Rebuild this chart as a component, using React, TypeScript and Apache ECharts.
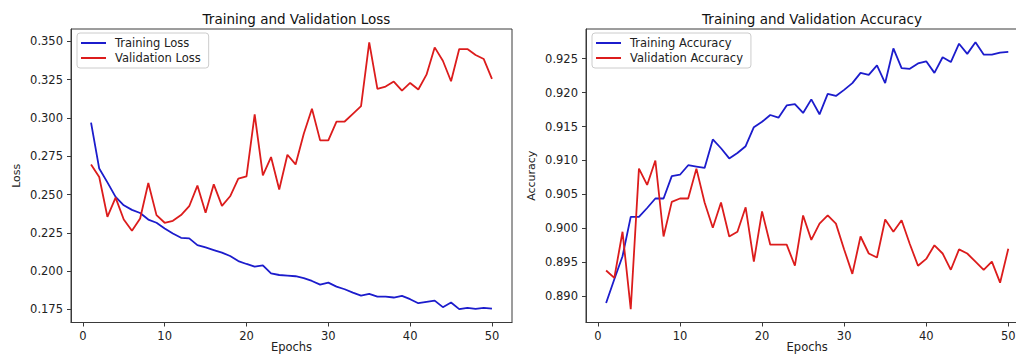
import React, { useEffect, useRef } from "react";
import * as echarts from "echarts";

const epochs = [1, 2, 3, 4, 5, 6, 7, 8, 9, 10, 11, 12, 13, 14, 15, 16, 17, 18, 19, 20, 21, 22, 23, 24, 25, 26, 27, 28, 29, 30, 31, 32, 33, 34, 35, 36, 37, 38, 39, 40, 41, 42, 43, 44, 45, 46, 47, 48, 49, 50];

const trainLoss = [0.297, 0.267, 0.258, 0.2485, 0.243, 0.240, 0.238, 0.2337, 0.2316, 0.2279,
  0.2246, 0.2218, 0.2214, 0.2170, 0.2155, 0.2138, 0.2121, 0.2099, 0.2066, 0.2047,
  0.2030, 0.2038, 0.1986, 0.1975, 0.1971, 0.1967, 0.1954, 0.1936, 0.1912, 0.1925,
  0.1899, 0.1882, 0.1860, 0.1841, 0.1852, 0.1834, 0.1834, 0.1828, 0.1839, 0.1817,
  0.1791, 0.1800, 0.1808, 0.1765, 0.1795, 0.1752, 0.1761, 0.1754, 0.1761, 0.1756];

const valLoss = [0.2697, 0.2615, 0.2355, 0.2480, 0.2337, 0.2264, 0.2344, 0.2576, 0.2366, 0.2316,
  0.2329, 0.2366, 0.2424, 0.2559, 0.2381, 0.2567, 0.2426, 0.2489, 0.2604, 0.2619,
  0.3023, 0.2626, 0.2745, 0.2533, 0.2760, 0.2697, 0.2897, 0.3060, 0.2854, 0.2854,
  0.2977, 0.2977, 0.3027, 0.3077, 0.3494, 0.3190, 0.3205, 0.3238, 0.3179, 0.3229,
  0.3186, 0.3283, 0.3461, 0.3374, 0.3240, 0.3450, 0.3450, 0.3411, 0.3385, 0.3255];

const trainAcc = [0.8890, 0.8925, 0.8959, 0.9017, 0.9017, 0.9030, 0.9044, 0.9044, 0.9077, 0.9079,
  0.9093, 0.9091, 0.9089, 0.9131, 0.9118, 0.9103, 0.9111, 0.9121, 0.9149, 0.9157,
  0.9167, 0.9163, 0.9181, 0.9183, 0.9170, 0.9190, 0.9168, 0.9198, 0.9195, 0.9204,
  0.9214, 0.9229, 0.9226, 0.9240, 0.9214, 0.9265, 0.9236, 0.9235, 0.9243, 0.9246,
  0.9229, 0.9252, 0.9245, 0.9272, 0.9257, 0.9274, 0.9256, 0.9256, 0.9259, 0.9260];

const valAcc = [0.8938, 0.8927, 0.8995, 0.8881, 0.9088, 0.9064, 0.9100, 0.8988, 0.9039, 0.9044,
  0.9044, 0.9088, 0.9038, 0.9001, 0.9038, 0.8988, 0.8995, 0.9031, 0.8951, 0.9025,
  0.8976, 0.8976, 0.8976, 0.8945, 0.9019, 0.8983, 0.9007, 0.9019, 0.9007, 0.8969,
  0.8933, 0.8988, 0.8963, 0.8957, 0.9013, 0.8995, 0.9012, 0.8977, 0.8945, 0.8955,
  0.8975, 0.8963, 0.8939, 0.8969, 0.8963, 0.8951, 0.8939, 0.8951, 0.8920, 0.8970];

const xTicks = [0, 10, 20, 30, 40, 50];
const lossTicks = [0.175, 0.2, 0.225, 0.25, 0.275, 0.3, 0.325, 0.35];
const accTicks = [0.89, 0.895, 0.9, 0.905, 0.91, 0.915, 0.92, 0.925];

const titles = ["Training and Validation Loss", "Training and Validation Accuracy"];
const yNames = ["Loss", "Accuracy"];
const xName = "Epochs";
const lossNames = ["Training Loss", "Validation Loss"];
const accNames = ["Training Accuracy", "Validation Accuracy"];

const FONT = "DejaVu Sans";
const BLUE = "#1c1ccc";
const RED = "#dc1c1c";
const AXIS = "#3a3a3a";

function range(arrs: number[][]) {
  const all = arrs.flat();
  const lo = Math.min(...all);
  const hi = Math.max(...all);
  const m = (hi - lo) * 0.05;
  return [lo - m, hi + m];
}

export default function App() {
  const ref = useRef<HTMLDivElement>(null);
  useEffect(() => {
    if (!ref.current) return;
    const chart = echarts.init(ref.current, undefined, { renderer: "svg" });
    const [xmin, xmax] = range([epochs]);
    const [lmin, lmax] = range([trainLoss, valLoss]);
    const [amin, amax] = range([trainAcc, valAcc]);

    const xAxisBase = (gi: number) => ({
      type: "value",
      gridIndex: gi,
      min: xmin,
      max: xmax,
      name: xName,
      nameLocation: "middle",
      nameGap: 18,
      nameMoveOverlap: false,
      nameTextStyle: { fontFamily: FONT, fontSize: 11.5, color: "#222" },
      axisLine: { show: true, onZero: false, lineStyle: { color: AXIS, width: 1 } },
      axisTick: { show: true, inside: false, length: 4, customValues: xTicks, lineStyle: { color: AXIS } },
      axisLabel: { customValues: xTicks, margin: 7, fontFamily: FONT, fontSize: 11.5, color: "#222" },
      splitLine: { show: false },
    });
    const yAxisBase = (gi: number, mn: number, mx: number, ticks: number[], name: string, gap: number) => ({
      type: "value",
      gridIndex: gi,
      min: mn,
      max: mx,
      name,
      nameLocation: "middle",
      nameGap: gap,
      nameMoveOverlap: false,
      nameTextStyle: { fontFamily: FONT, fontSize: 11, color: "#222" },
      axisLine: { show: true, onZero: false, lineStyle: { color: AXIS, width: 1 } },
      axisTick: { show: true, inside: false, length: 4, customValues: ticks, lineStyle: { color: AXIS } },
      axisLabel: {
        customValues: ticks,
        margin: 8,
        fontFamily: FONT,
        fontSize: 11.5,
        color: "#222",
        formatter: (v: number) => v.toFixed(3),
      },
      splitLine: { show: false },
    });

    const lineSeries = (name: string, data: number[], color: string, gi: number) => ({
      type: "line",
      name,
      xAxisIndex: gi,
      yAxisIndex: gi,
      data: epochs.map((e, i) => [e, data[i]]),
      showSymbol: false,
      symbol: "none",
      lineStyle: { color, width: 1.8 },
      itemStyle: { color },
      clip: true,
    });

    const legendBase = (left: number, names: string[]) => ({
      left,
      top: 33,
      orient: "vertical",
      data: names,
      icon: "path://M0,0 L25,0 L25,2 L0,2 Z",
      itemWidth: 25,
      itemHeight: 2,
      itemGap: 3,
      padding: [4, 8, 4, 4],
      borderColor: "#cccccc",
      borderWidth: 1,
      borderRadius: 3,
      backgroundColor: "rgba(255,255,255,0.8)",
      textStyle: { fontFamily: FONT, fontSize: 11.5, color: "#222", lineHeight: 12, padding: [0, 0, 0, 4] },
      selectedMode: false,
    });

    chart.setOption({
      animation: false,
      backgroundColor: "#ffffff",
      title: [
        {
          text: titles[0],
          left: 291.5,
          top: 7,
          textAlign: "center",
          textStyle: { fontFamily: FONT, fontSize: 13.5, fontWeight: "normal", color: "#111" },
        },
        {
          text: titles[1],
          left: 807,
          top: 7,
          textAlign: "center",
          textStyle: { fontFamily: FONT, fontSize: 13.5, fontWeight: "normal", color: "#111" },
        },
      ],
      grid: [
        { left: 71, top: 29, width: 441, height: 293.5, show: true, borderColor: AXIS, borderWidth: 1, containLabel: false, outerBoundsMode: "none" },
        { left: 586, top: 29, width: 442.4, height: 293.5, show: true, borderColor: AXIS, borderWidth: 1, containLabel: false, outerBoundsMode: "none" },
      ],
      xAxis: [xAxisBase(0), xAxisBase(1)],
      yAxis: [
        yAxisBase(0, lmin, lmax, lossTicks, yNames[0], 49),
        yAxisBase(1, amin, amax, accTicks, yNames[1], 49),
      ],
      legend: [legendBase(77, lossNames), legendBase(592, accNames)],
      series: [
        lineSeries(lossNames[0], trainLoss, BLUE, 0),
        lineSeries(lossNames[1], valLoss, RED, 0),
        lineSeries(accNames[0], trainAcc, BLUE, 1),
        lineSeries(accNames[1], valAcc, RED, 1),
      ],
    });
    return () => chart.dispose();
  }, []);
  return (
    <div
      ref={ref}
      style={{ position: "fixed", left: 0, top: 0, width: 1016, height: 356, background: "#fff" }}
    />
  );
}
